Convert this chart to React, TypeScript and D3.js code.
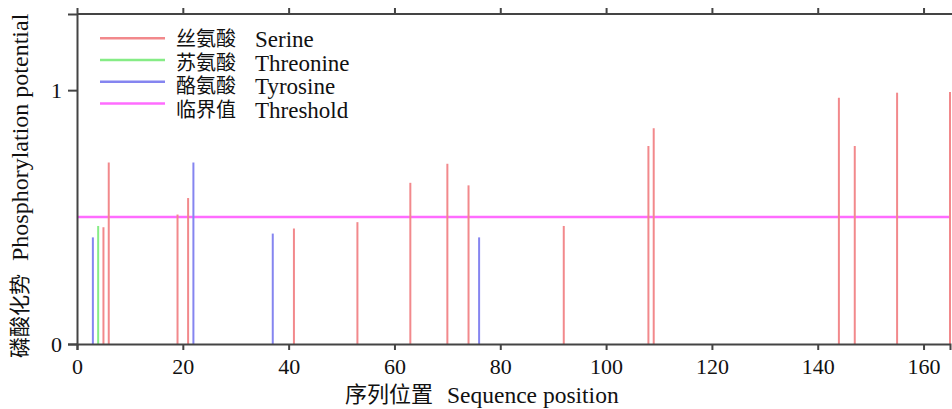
// App.tsx
import React, { useEffect, useRef } from 'react';
import * as d3 from 'd3';

// serine sites
const serinePos = [5, 6, 19, 21, 41, 53, 63, 70, 74, 92, 108, 109, 144, 147, 155, 165];
const serineVal = [0.46, 0.715, 0.51, 0.575, 0.455, 0.48, 0.635, 0.71, 0.625, 0.465, 0.78, 0.85, 0.97, 0.78, 0.99, 0.993];
// threonine sites
const threoninePos = [4];
const threonineVal = [0.465];
// tyrosine sites
const tyrosinePos = [3, 22, 37, 76];
const tyrosineVal = [0.42, 0.715, 0.435, 0.42];

const threshold = 0.5;
const xTicks = [0, 20, 40, 60, 80, 100, 120, 140, 160];
const yTicks = [0, 1];

const legendCn = ['丝氨酸', '苏氨酸', '酪氨酸', '临界值'];
const legendEn = ['Serine', 'Threonine', 'Tyrosine', 'Threshold'];
const legendColors = ['#f2898c', '#86ec86', '#8585f0', '#ff6cff'];

const latin = "'Liberation Serif', 'Times New Roman', Times, 'DejaVu Serif', serif";
const cjk = "'Noto Sans CJK SC', sans-serif";

export default function App() {
    const ref = useRef<SVGSVGElement>(null);

    useEffect(() => {
        drawChart();
        // eslint-disable-next-line
    }, []);

    function drawChart() {
        const width = 952;
        const height = 409;
        const margin = { top: 14, right: 2, bottom: 65, left: 77 };

        const svg = d3.select(ref.current);
        svg.selectAll('*').remove();

        const x = d3.scaleLinear().domain([0, 165]).range([margin.left, width - margin.right]);
        const y = d3.scaleLinear().domain([0, 1.3]).range([height - margin.bottom, margin.top]);

        const axisColor = '#444';

        // threshold line
        svg.append('line')
            .attr('x1', x(0))
            .attr('x2', x(165))
            .attr('y1', y(threshold))
            .attr('y2', y(threshold))
            .attr('stroke', legendColors[3])
            .attr('stroke-width', 2.5);

        // stems for each residue type
        const series = [
            { pos: serinePos, val: serineVal, color: legendColors[0] },
            { pos: threoninePos, val: threonineVal, color: legendColors[1] },
            { pos: tyrosinePos, val: tyrosineVal, color: legendColors[2] },
        ];
        series.forEach((s) => {
            svg.append('g')
                .selectAll('line')
                .data(s.pos)
                .enter()
                .append('line')
                .attr('x1', (d) => x(d))
                .attr('x2', (d) => x(d))
                .attr('y1', y(0))
                .attr('y2', (d, i) => y(s.val[i]))
                .attr('stroke', s.color)
                .attr('stroke-width', 2);
        });

        // bottom axis
        const bottom = svg
            .append('g')
            .attr('transform', `translate(0,${y(0)})`)
            .call(d3.axisBottom(x).tickValues(xTicks).tickSize(6).tickPadding(8).tickFormat(d3.format('d')));
        // top axis, ticks only
        const top = svg
            .append('g')
            .attr('transform', `translate(0,${y(1.3)})`)
            .call(d3.axisTop(x).tickValues(xTicks).tickSize(6).tickFormat(() => ''));
        // left axis
        const left = svg
            .append('g')
            .attr('transform', `translate(${x(0)},0)`)
            .call(d3.axisLeft(y).tickValues(yTicks).tickSize(9).tickPadding(6).tickFormat(d3.format('d')));

        [bottom, top, left].forEach((g) => {
            g.attr('font-family', latin).attr('font-size', 22);
            g.select('.domain').attr('stroke', axisColor).attr('stroke-width', 2);
            g.selectAll('.tick line').attr('stroke', axisColor).attr('stroke-width', 2);
            g.selectAll('.tick text').attr('fill', '#111');
        });
        top.select('.domain').attr('d', `M${x(0)},0H${width}`);
        bottom.selectAll('.tick text').attr('dy', '0.71em');
        left.selectAll('.tick text').attr('dy', '0.34em');

        // legend
        const legend = svg.append('g');
        legendCn.forEach((cn, i) => {
            const ly = 38.3 + i * 21.7;
            const ty = 47 + i * 23.6;
            legend
                .append('line')
                .attr('x1', 100)
                .attr('x2', 165)
                .attr('y1', ly)
                .attr('y2', ly)
                .attr('stroke', legendColors[i])
                .attr('stroke-width', 2.5);
            legend
                .append('text')
                .attr('x', 176)
                .attr('y', ty - 1)
                .attr('font-family', cjk)
                .attr('font-size', 20)
                .attr('fill', '#111')
                .text(cn);
            legend
                .append('text')
                .attr('x', 255)
                .attr('y', ty)
                .attr('font-family', latin)
                .attr('font-size', 23)
                .attr('fill', '#111')
                .text(legendEn[i]);
        });

        // x axis title
        const xt = svg.append('g');
        xt.append('text')
            .attr('x', 345)
            .attr('y', 402)
            .attr('font-family', cjk)
            .attr('font-size', 22)
            .attr('fill', '#111')
            .text('序列位置');
        xt.append('text')
            .attr('x', 447)
            .attr('y', 403)
            .attr('font-family', latin)
            .attr('font-size', 23.5)
            .attr('fill', '#111')
            .text('Sequence position');

        // y axis title
        const yt = svg.append('g').attr('transform', 'translate(28,358) rotate(-90)');
        yt.append('text')
            .attr('x', 0)
            .attr('y', -1)
            .attr('font-family', cjk)
            .attr('font-size', 21)
            .attr('fill', '#111')
            .text('磷酸化势');
        yt.append('text')
            .attr('x', 97)
            .attr('y', 0)
            .attr('font-family', latin)
            .attr('font-size', 24)
            .attr('fill', '#111')
            .text('Phosphorylation potential');
    }

    return (
        <svg
            ref={ref}
            width={952}
            height={409}
            style={{ position: 'absolute', left: 0, top: 0, background: '#fff' }}
        />
    );
}
